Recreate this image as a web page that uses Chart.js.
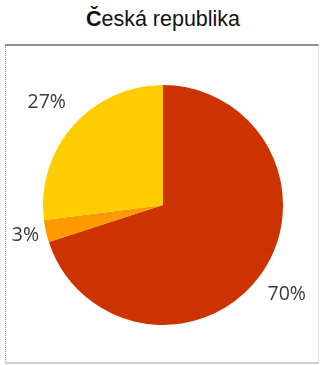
<!DOCTYPE html>
<html>
<head>
<meta charset="utf-8">
<script src="https://cdn.jsdelivr.net/npm/chart.js@4"></script>
<style>
	html, body { margin: 0; padding: 0; background: #fff; }
	.wrap { position: relative; width: 320px; height: 365px; overflow: hidden; }
	.title {
		position: absolute; left: 0; top: 7px; width: 326px; text-align: center;
		font-family: "Liberation Sans", Arial, sans-serif; font-size: 21.5px; color: #111;
	}
	.frame {
		position: absolute; left: 5px; top: 44px; width: 312px; height: 316px;
		border-top: 2px solid #8f8f8f; border-left: 1px dotted #999;
		border-bottom: 2px solid #cfcfcf; border-right: 1px solid #e2e2e2;
	}
	canvas { position: absolute; left: 0; top: 0; }
</style>
</head>
<body>
<div class="wrap">
	<div class="title"><b>Č</b>eská republika</div>
	<div class="frame"></div>
	<canvas id="pie" width="320" height="365"></canvas>
</div>
<script>
const categories = ["A", "B", "C"];
const shares = [70, 3, 27];
const sliceColors = ["#cc3300", "#ff9900", "#ffcc00"];

// draws the percent labels just outside each slice
const outsideLabels = {
	id: "outsideLabels",
	afterDatasetsDraw(chart, args, opts) {
		const ctx = chart.ctx;
		const meta = chart.getDatasetMeta(0);
		ctx.save();
		ctx.font = opts.font;
		ctx.fillStyle = opts.color;
		ctx.textAlign = "center";
		ctx.textBaseline = "middle";
		meta.data.forEach((arc, i) => {
			const p = arc.getProps(["x", "y", "startAngle", "endAngle", "outerRadius"], true);
			const mid = (p.startAngle + p.endAngle) / 2;
			const r = p.outerRadius + opts.offsets[i];
			ctx.fillText(shares[i] + "%", p.x + Math.cos(mid) * r, p.y + Math.sin(mid) * r);
		});
		ctx.restore();
	},
};

new Chart(document.getElementById("pie"), {
	type: "pie",
	data: {
		labels: categories,
		datasets: [
			{
				data: shares,
				backgroundColor: sliceColors,
				borderWidth: 0,
			},
		],
	},
	options: {
		responsive: false,
		animation: false,
		layout: { padding: { left: 43, right: 37, top: 85, bottom: 40 } },
		plugins: {
			legend: { display: false },
			tooltip: { enabled: false },
			outsideLabels: {
				font: "19.5px 'Open Sans'",
				color: "#3a3a3a",
				offsets: [33, 21, 35],
			},
		},
	},
	plugins: [outsideLabels],
});
</script>
</body>
</html>
